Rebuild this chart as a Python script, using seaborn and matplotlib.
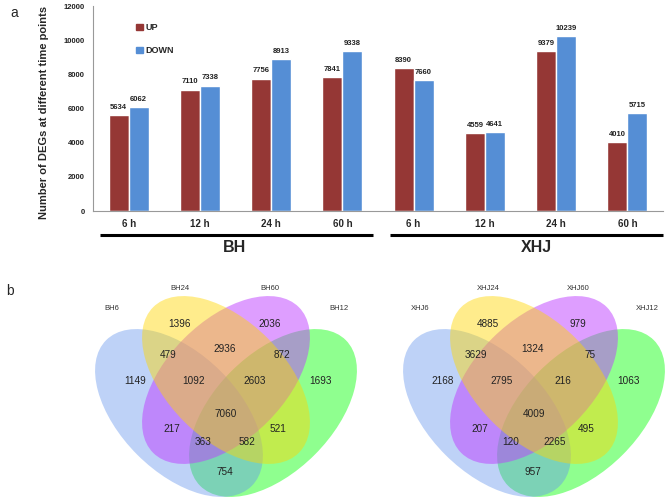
import numpy as np
import pandas as pd
import matplotlib
matplotlib.use("Agg")
import matplotlib.pyplot as plt
from matplotlib.patches import Ellipse, Patch
import seaborn as sns

# ---------------- data ----------------
cultivars = ["BH", "XHJ"]
time_labels = ["6 h", "12 h", "24 h", "60 h"]
up_counts = [5634, 7110, 7756, 7841, 8390, 4559, 9379, 4010]
down_counts = [6062, 7338, 8913, 9338, 7660, 4641, 10239, 5715]
directions = ["UP", "DOWN"]

venn_sets_bh = ["BH6", "BH24", "BH60", "BH12"]
venn_sets_xhj = ["XHJ6", "XHJ24", "XHJ60", "XHJ12"]
# region order: A, B, C, D only; AB, BC, CD; ABC, BCD; ABCD; AC, BD; ACD, ABD; AD
# (A=6h, B=24h, C=60h, D=12h)
venn_bh = [1149, 1396, 2036, 1693, 479, 2936, 872, 1092, 2603, 7060, 217, 521, 363, 582, 754]
venn_xhj = [2168, 4885, 979, 1063, 3629, 1324, 75, 2795, 216, 4009, 207, 495, 120, 2265, 957]

# ---------------- style ----------------
sns.set_style("white")
plt.rcParams["font.family"] = ["Liberation Sans", "DejaVu Sans"]

UP_COLOR = "#953735"
DOWN_COLOR = "#558ED5"

fig = plt.figure(figsize=(6.69, 5.04), dpi=100)

# ---------------- bar chart ----------------
conds = [f"{c} {t}" for c in cultivars for t in time_labels]
df = pd.DataFrame({
    "cond": conds * 2,
    "value": up_counts + down_counts,
    "dir": [directions[0]] * len(conds) + [directions[1]] * len(conds),
})

ax = fig.add_axes([93 / 669, 1 - 211 / 504, 570 / 669, 205 / 504])
sns.barplot(data=df, x="cond", y="value", hue="dir", order=conds,
            hue_order=directions, palette=[UP_COLOR, DOWN_COLOR],
            width=0.56, ax=ax, legend=False, saturation=1)
for cont in ax.containers:
    ax.bar_label(cont, fmt="%d", padding=3, fontsize=5.5, fontweight="bold",
                 color="#222222")

ax.set_ylim(0, 12000)
ax.set_xlim(-0.5, 7.5)
ax.set_yticks(np.arange(0, 12001, 2000))
ax.set_xticks(range(len(conds)))
ax.set_xticklabels(time_labels * len(cultivars), fontsize=7, fontweight="bold")
ax.set_xticks(np.arange(-0.5, len(conds), 1), minor=True)
ax.tick_params(axis="x", which="major", length=0, pad=6)
ax.tick_params(axis="x", which="minor", length=3, color="#999999", direction="out")
ax.tick_params(axis="y", length=3, color="#999999", labelsize=5.5, pad=3)
for lab in ax.get_yticklabels():
    lab.set_fontweight("bold")
    lab.set_color("#222222")
for s in ["top", "right"]:
    ax.spines[s].set_visible(False)
for s in ["left", "bottom"]:
    ax.spines[s].set_color("#999999")
    ax.spines[s].set_linewidth(0.8)
ax.set_xlabel("")
ax.set_ylabel("Number of DEGs at different time points", fontsize=8,
              fontweight="bold")
ax.yaxis.set_label_coords(-0.077, 0.48)

handles = [Patch(color=UP_COLOR), Patch(color=DOWN_COLOR)]
ax.legend(handles, directions, loc="upper left", bbox_to_anchor=(0.062, 0.955),
          frameon=False, handlelength=0.7, handleheight=0.7, handletextpad=0.3,
          labelspacing=1.5, prop={"weight": "bold", "size": 6.5})

trans = ax.get_xaxis_transform()
ax.plot([-0.40, 3.43], [-0.117, -0.117], color="black", lw=2.2,
        transform=trans, clip_on=False, solid_capstyle="butt")
ax.plot([3.67, 7.5], [-0.117, -0.117], color="black", lw=2.2,
        transform=trans, clip_on=False, solid_capstyle="butt")
ax.text(1.49, -0.18, cultivars[0], transform=trans, ha="center", va="center",
        fontsize=11.5, fontweight="bold")
ax.text(5.73, -0.18, cultivars[1], transform=trans, ha="center", va="center",
        fontsize=11.5, fontweight="bold")

fig.text(14 / 669, 1 - 13 / 504, "a", fontsize=10, ha="center", va="center")
fig.text(10 / 669, 1 - 291 / 504, "b", fontsize=10, ha="center", va="center")

# ---------------- venn diagrams ----------------
vax = fig.add_axes([0, 0, 1, 234 / 504])
vax.set_xlim(0, 669)
vax.set_ylim(504, 270)
vax.axis("off")

A_SEMI, B_SEMI = 103, 59
# A (blue), B (gold), C (orchid), D (green)
ell_colors = ["#6495ED", "#FFD700", "#BF3EFF", "#00FF00"]
ell_alpha = [0.42, 0.45, 0.5, 0.44]
draw_order = [3, 0, 2, 1]


def draw_venn(cx, names, counts):
    centers = [(cx - 47, 413), (cx, 380), (cx, 380), (cx + 47, 413)]
    angles = [45, 45, -45, -45]
    for i in draw_order:
        vax.add_patch(Ellipse(centers[i], 2 * A_SEMI, 2 * B_SEMI,
                              angle=angles[i], facecolor=ell_colors[i],
                              alpha=ell_alpha[i], lw=0))
    offs = [(-91, 1), (-46, -56), (44, -56), (95, 1),
            (-58, -25), (-1, -31), (56, -25),
            (-32, 1), (29, 1), (0, 34),
            (-54, 49), (52, 49), (-23, 62), (21, 62), (-1, 92)]
    for (dx, dy), n in zip(offs, counts):
        vax.text(cx + dx, 380 + dy, str(n), ha="center", va="center",
                 fontsize=7.2, color="#222222")
    lab_offs = [(-114, -71), (-46, -91), (44, -91), (113, -71)]
    for (dx, dy), nm in zip(lab_offs, names):
        vax.text(cx + dx, 380 + dy, nm, ha="center", va="center",
                 fontsize=5.5, color="#333333")


draw_venn(226, venn_sets_bh, venn_bh)
draw_venn(534, venn_sets_xhj, venn_xhj)

fig.savefig("out.png", dpi=100)
